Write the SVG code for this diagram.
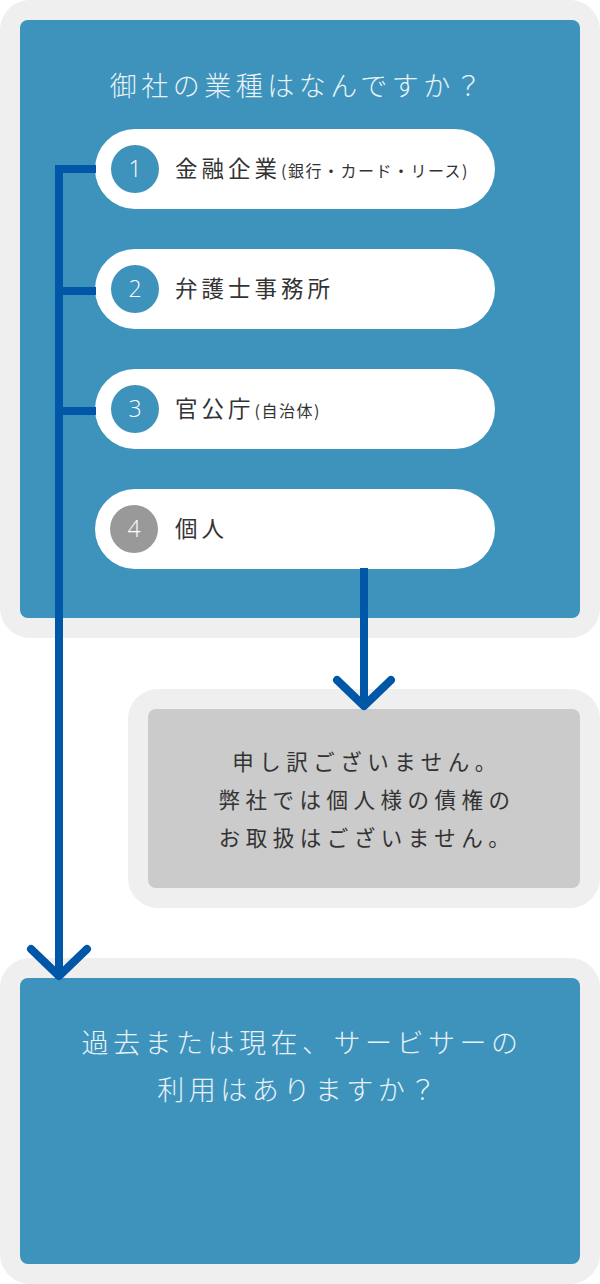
<svg xmlns="http://www.w3.org/2000/svg" width="600" height="1284" viewBox="0 0 600 1284">
<style>
.outer{fill:#efefef}
.blue{fill:#3d93bc}
.grey{fill:#cbcbcb}
.pill{fill:#ffffff}
.t{font-family:"Noto Sans CJK JP","Noto Sans",sans-serif}
.title{font-size:27px;fill:#eaf2f7;font-weight:300;letter-spacing:4.5px;text-anchor:middle}
.lbl{font-size:22.5px;fill:#333333;letter-spacing:4px}
.sm{font-size:16px;letter-spacing:1.5px}
.num{font-family:"Open Sans","Noto Sans",sans-serif;font-size:23px;font-weight:300;fill:#ffffff;text-anchor:middle}
.msg{font-size:21.5px;fill:#333333;letter-spacing:5.5px;text-anchor:middle}
.conn{fill:none;stroke:#0157a7;stroke-width:8}
.arr{fill:none;stroke:#0157a7;stroke-width:8;stroke-linecap:round;stroke-linejoin:round}
</style>
<g id="question1">
<rect class="outer" x="0" y="0" width="600" height="638" rx="30"/>
<rect class="blue" x="20" y="20" width="560" height="598" rx="8"/>
<text class="t title" x="298" y="96">御社の業種はなんですか？</text>
</g>
<g id="opt1">
<rect class="pill" x="95" y="129" width="400" height="80" rx="40"/>
<circle cx="135" cy="169" r="24" fill="#3d93bc"/>
<text class="num" x="135" y="177">1</text>
<text class="t lbl" x="175" y="177">金融企業<tspan class="sm" dx="0">(銀行・カード・リース)</tspan></text>
</g>
<g id="opt2">
<rect class="pill" x="95" y="249" width="400" height="80" rx="40"/>
<circle cx="135" cy="289" r="24" fill="#3d93bc"/>
<text class="num" x="135" y="297">2</text>
<text class="t lbl" x="175" y="297">弁護士事務所</text>
</g>
<g id="opt3">
<rect class="pill" x="95" y="369" width="400" height="80" rx="40"/>
<circle cx="135" cy="409" r="24" fill="#3d93bc"/>
<text class="num" x="135" y="417">3</text>
<text class="t lbl" x="175" y="417">官公庁<tspan class="sm" dx="0">(自治体)</tspan></text>
</g>
<g id="opt4">
<rect class="pill" x="95" y="489" width="400" height="80" rx="40"/>
<circle cx="134" cy="529" r="24" fill="#999999"/>
<text class="num" x="134" y="537">4</text>
<text class="t lbl" x="175" y="537">個人</text>
</g>
<g id="sorry">
<rect class="outer" x="128" y="689" width="472" height="219" rx="30"/>
<rect class="grey" x="148" y="709" width="432" height="179" rx="8"/>
<text class="t msg" x="367" y="770">申し訳ございません。</text>
<text class="t msg" x="367" y="808">弊社では個人様の債権の</text>
<text class="t msg" x="367" y="846">お取扱はございません。</text>
</g>
<g id="question2">
<rect class="outer" x="0" y="958" width="600" height="326" rx="30"/>
<rect class="blue" x="20" y="978" width="560" height="286" rx="8"/>
<text class="t title" x="302" y="1053">過去または現在、サービサーの</text>
<text class="t title" x="299" y="1100">利用はありますか？</text>
</g>
<g id="connectors">
<path class="conn" d="M96,169 H59 V975"/>
<path class="conn" d="M59,291 H96"/>
<path class="conn" d="M59,411 H96"/>
<polyline class="arr" points="31,949 59,976 87,949"/>
<path class="conn" d="M364,568 V704"/>
<polyline class="arr" points="337,680 364,706 391,680"/>
</g>
</svg>
